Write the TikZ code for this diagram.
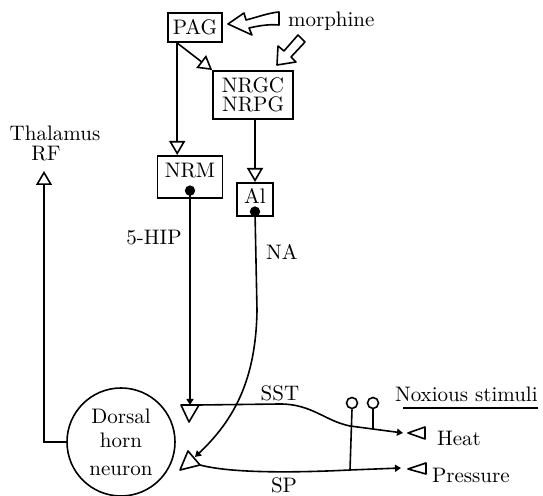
\documentclass[tikz,border=0pt]{standalone}
\usepackage{tikz}
\usetikzlibrary{arrows.meta, positioning, calc}

\begin{document}
\begin{tikzpicture}[x=0.5pt, y=-0.5pt,
    every node/.style={font=\fontsize{10.5}{12}\selectfont},
    box/.style={draw, line width=0.8pt, inner xsep=0pt, inner ysep=3.5pt},
    fibre/.style={line width=0.8pt},
    hollow/.style={fibre, -{Triangle[open, length=7pt, width=8pt]}},
    syn/.style={fibre, -{Triangle[length=3pt, width=3.5pt]}},
    term/.style={line width=0.8pt, line join=round},
    knob/.style={circle, draw, line width=0.8pt, minimum size=5.5pt, inner sep=0pt}]
    \useasboundingbox (0,0) rectangle (543,496);

    % Brainstem nuclei
    \node[box, minimum width=27pt] (pag) at (195,27.5) {PAG};
    \node[box, minimum width=40pt, align=center] (nrgc) at (253,95) {NRGC\\[-2.5pt]NRPG};
    \node[box, minimum width=32.5pt, anchor=north, text height=7.5pt, text depth=6.5pt] (nrm) at (190,155) {NRM};
    \node[box, minimum width=18pt, anchor=north, text height=7pt, text depth=2.5pt] (al) at (255,182) {Al};
    \coordinate (nrmdot) at ([yshift=4pt]nrm.south);
    \coordinate (aldot) at ([yshift=2.5pt]al.south);
    \fill (nrmdot) circle (2.6pt);
    \fill (aldot) circle (2.6pt);

    \coordinate (pagout) at ([xshift=5pt]pag.south west);
    \draw[hollow] (pagout) -- (pagout |- nrm.north);
    \draw[hollow] (pagout) -- (nrgc.north west);
    \draw[hollow] (al.north |- nrgc.south) -- (al.north);

    % Morphine
    \node[anchor=base west] (morph) at (281,27) {morphine};
    \draw[term, fill=white] (228,24) -- (244,13) -- (246,20) .. controls (258,17) and (268,13) .. (279,12)
        -- (279,25) .. controls (268,24) and (258,26) .. (249,28) -- (252,35) -- cycle;
    \draw[term, fill=white] (277,65) -- (278,46) -- (284,51) -- (298,35) -- (305,42) -- (291,57) -- (296,62) -- cycle;

    % Dorsal horn neuron and ascending path
    \node[circle, draw, line width=0.8pt, minimum size=54pt, inner sep=0pt, align=center] (dhn) at (121,442) {Dorsal\\horn\\[2pt]neuron};
    \node (thal) at (55,133) {Thalamus};
    \node (rf) at (46,154) {RF};
    \coordinate (thaltip) at (44,171);
    \draw[hollow] (dhn.west) -| (thaltip);

    % Terminals on the neuron
    \coordinate (sstt) at (190,405);
    \coordinate (ssto) at (199,405);
    \coordinate (natip) at (195,457);
    \coordinate (spo) at (200,465);
    \draw[term] (181,405) -- (199,405) -- (189,422) -- cycle;
    \draw[term] (188,451) -- (200,465) -- (180,470) -- cycle;

    % Descending fibres
    \draw[syn] (nrmdot) -- (sstt);
    \draw[syn] (aldot) -- (257,310) .. controls (256,380) and (234,420) .. (natip);
    \node (fivehip) at (154,238) {5-HIP};
    \node (na) at (282,252) {NA};

    % Primary afferents
    \coordinate (heatrec) at (403,433);
    \coordinate (pressrec) at (401,468);
    \draw[syn] (ssto) -- (280,404) .. controls (312,404) and (325,421) .. (350,426) -- (heatrec);
    \draw[syn] (spo) .. controls (230,473) and (290,473) .. (350,470) -- (pressrec);
    \node (sst) at (280,393) {SST};
    \node[inner sep=1pt] (sp) at (284,485) {SP};

    % Stimuli
    \draw[term] (408,433) -- (425,427) -- (425,439) -- cycle;
    \draw[term] (408,469) -- (426,463) -- (426,474) -- cycle;
    \node[anchor=base west] (heat) at (430,446) {Heat};
    \node[anchor=base west] (press) at (425,483) {Pressure};
    \node[anchor=base west] (nox) at (388,402) {Noxious stimuli};
    \draw[line width=0.6pt] ([xshift=7.5pt,yshift=-3pt]nox.base west) -- ([xshift=-3.5pt,yshift=-3pt]nox.base east);

    \node[knob] (lpa) at (352,403) {};
    \node[knob] (lpb) at (373,403) {};
    \coordinate (spx) at (350,470);
    \coordinate (sstx) at (373,429);
    \draw[fibre] (lpa.south) -- (spx);
    \draw[fibre] (lpb.south) -- (sstx);
\end{tikzpicture}
\end{document}
